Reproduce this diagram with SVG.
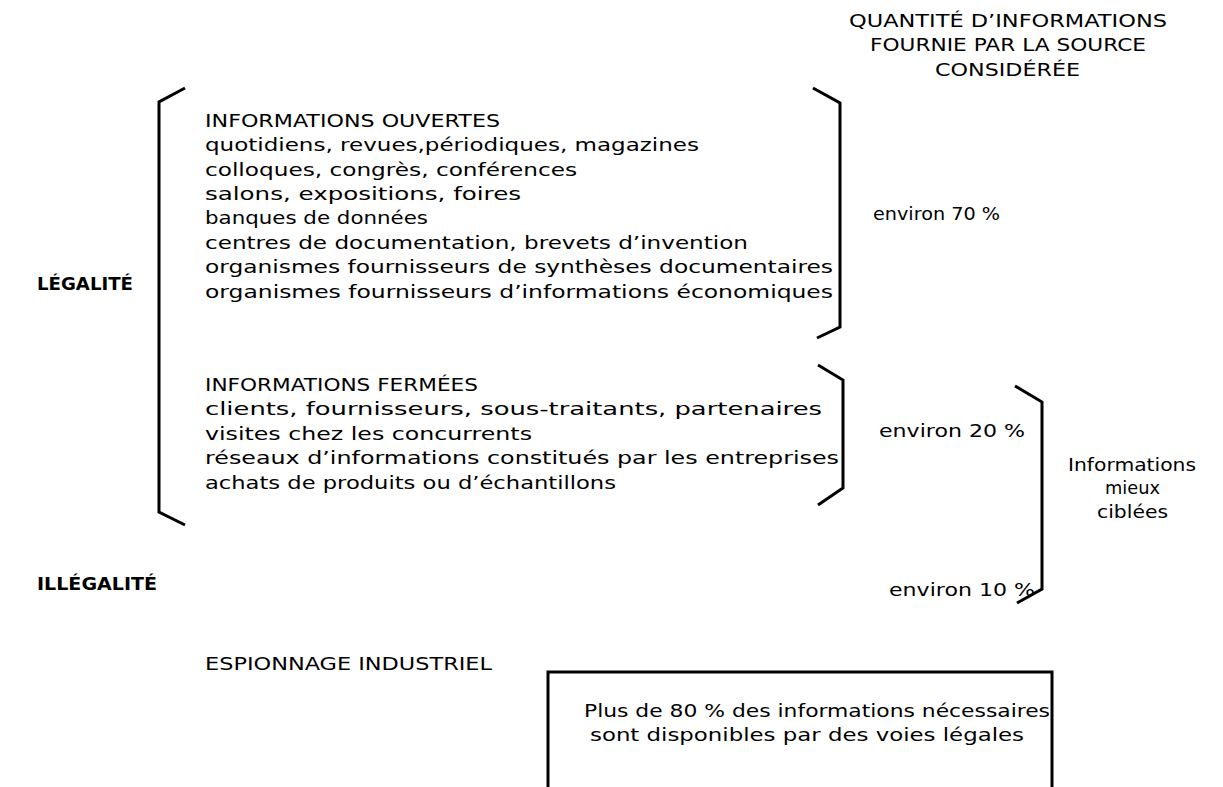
<svg xmlns="http://www.w3.org/2000/svg" width="1223" height="787" viewBox="0 0 1223 787">
<style>
.t{font-family:"DejaVu Sans","Liberation Sans",sans-serif;font-size:18px;fill:#000}
.b{font-family:"DejaVu Sans","Liberation Sans",sans-serif;font-size:18px;font-weight:bold;fill:#000}
.br{fill:none;stroke:#000;stroke-width:3;stroke-linejoin:miter}
</style>
<rect width="1223" height="787" fill="#fff"/>
<g id="connectors">
<polyline class="br" points="185,88 159,102 159,512 185,525"/>
<polyline class="br" points="813,88 840,103 840,327 817,338"/>
<polyline class="br" points="818,365 843,380 843,488 818,505"/>
<polyline class="br" points="1015,386 1042,402 1042,589 1017,603"/>
</g>
<g id="header">
<text class="t" x="849" y="27" textLength="318" lengthAdjust="spacingAndGlyphs">QUANTITÉ D’INFORMATIONS</text>
<text class="t" x="870" y="51" textLength="276" lengthAdjust="spacingAndGlyphs">FOURNIE PAR LA SOURCE</text>
<text class="t" x="935" y="76" textLength="145" lengthAdjust="spacingAndGlyphs">CONSIDÉRÉE</text>
</g>
<g id="legalite"><text class="b" x="37" y="290" textLength="96" lengthAdjust="spacingAndGlyphs">LÉGALITÉ</text></g>
<g id="illegalite"><text class="b" x="37" y="590" textLength="120" lengthAdjust="spacingAndGlyphs">ILLÉGALITÉ</text></g>
<g id="ouvertes">
<text class="t" x="205" y="127" textLength="295" lengthAdjust="spacingAndGlyphs">INFORMATIONS OUVERTES</text>
<text class="t" x="205" y="151" textLength="494" lengthAdjust="spacingAndGlyphs">quotidiens, revues,périodiques, magazines</text>
<text class="t" x="205" y="176" textLength="372" lengthAdjust="spacingAndGlyphs">colloques, congrès, conférences</text>
<text class="t" x="205" y="200" textLength="316" lengthAdjust="spacingAndGlyphs">salons, expositions, foires</text>
<text class="t" x="205" y="224" textLength="223" lengthAdjust="spacingAndGlyphs">banques de données</text>
<text class="t" x="205" y="249" textLength="543" lengthAdjust="spacingAndGlyphs">centres de documentation, brevets d’invention</text>
<text class="t" x="205" y="273" textLength="628" lengthAdjust="spacingAndGlyphs">organismes fournisseurs de synthèses documentaires</text>
<text class="t" x="205" y="298" textLength="628" lengthAdjust="spacingAndGlyphs">organismes fournisseurs d’informations économiques</text>
</g>
<g id="fermees">
<text class="t" x="205" y="391" textLength="273" lengthAdjust="spacingAndGlyphs">INFORMATIONS FERMÉES</text>
<text class="t" x="205" y="415" textLength="617" lengthAdjust="spacingAndGlyphs">clients, fournisseurs, sous-traitants, partenaires</text>
<text class="t" x="205" y="440" textLength="327" lengthAdjust="spacingAndGlyphs">visites chez les concurrents</text>
<text class="t" x="205" y="464" textLength="634" lengthAdjust="spacingAndGlyphs">réseaux d’informations constitués par les entreprises</text>
<text class="t" x="205" y="489" textLength="411" lengthAdjust="spacingAndGlyphs">achats de produits ou d’échantillons</text>
</g>
<g id="espionnage"><text class="t" x="205" y="670" textLength="287" lengthAdjust="spacingAndGlyphs">ESPIONNAGE INDUSTRIEL</text></g>
<g id="pct70"><text class="t" x="873" y="220" textLength="127" lengthAdjust="spacingAndGlyphs">environ 70 %</text></g>
<g id="pct20"><text class="t" x="879" y="437" textLength="146" lengthAdjust="spacingAndGlyphs">environ 20 %</text></g>
<g id="pct10"><text class="t" x="889" y="596" textLength="146" lengthAdjust="spacingAndGlyphs">environ 10 %</text></g>
<g id="cible">
<text class="t" x="1068" y="471" textLength="128" lengthAdjust="spacingAndGlyphs">Informations</text>
<text class="t" x="1105" y="494" textLength="55" lengthAdjust="spacingAndGlyphs">mieux</text>
<text class="t" x="1097" y="518" textLength="71" lengthAdjust="spacingAndGlyphs">ciblées</text>
</g>
<g id="conclusion">
<rect x="548" y="672" width="504" height="140" fill="none" stroke="#000" stroke-width="3"/>
<text class="t" x="584" y="717" textLength="466" lengthAdjust="spacingAndGlyphs">Plus de 80 % des informations nécessaires</text>
<text class="t" x="590" y="741" textLength="434" lengthAdjust="spacingAndGlyphs">sont disponibles par des voies légales</text>
</g>
</svg>
